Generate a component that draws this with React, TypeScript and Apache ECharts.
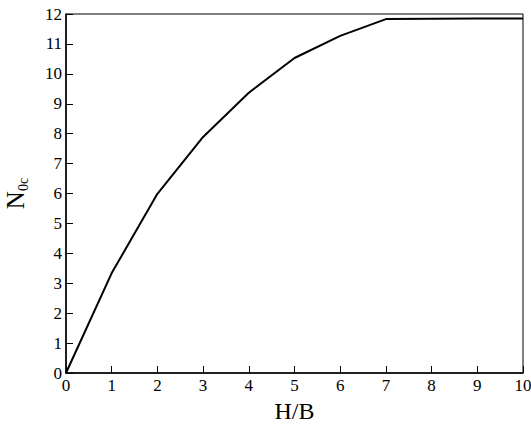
import React, { useEffect, useRef } from "react";
import * as echarts from "echarts";

const xValues = [0, 1, 2, 3, 4, 5, 6, 7, 8, 9, 10];
const n0cValues = [0, 3.34, 5.99, 7.89, 9.37, 10.53, 11.27, 11.83, 11.84, 11.85, 11.85];

const FONT = "Liberation Serif";

const tickRich = { t: { fontFamily: FONT, fontSize: 17, color: "#000" } };

export default function App() {
  const ref = useRef<HTMLDivElement>(null);
  useEffect(() => {
    if (!ref.current) return;
    const chart = echarts.init(ref.current, null, { renderer: "svg" });
    chart.setOption({
      animation: false,
      backgroundColor: "#fff",
      textStyle: { fontFamily: FONT, color: "#000" },
      grid: {
        left: 66,
        right: 8,
        top: 14,
        bottom: 53,
        show: true,
        borderColor: "#000",
        borderWidth: 1,
        containLabel: false,
        outerBoundsMode: "none",
      },
      xAxis: {
        type: "value",
        min: 0,
        max: 10,
        interval: 1,
        name: "H/B",
        nameLocation: "middle",
        nameGap: 24,
        nameTextStyle: { fontFamily: FONT, fontSize: 24, color: "#000" },
        axisLine: { show: true, lineStyle: { color: "#000", width: 1.5 } },
        axisTick: { show: true, inside: true, length: 7, lineStyle: { color: "#000" } },
        axisLabel: {
          show: true,
          fontFamily: FONT,
          fontSize: 17,
          color: "#000",
          margin: 4,
          formatter: "{t|{value}}",
          rich: tickRich,
        },
        splitLine: { show: false },
      },
      yAxis: {
        type: "value",
        min: 0,
        max: 12,
        interval: 1,
        name: "{n|N}{s|0c}",
        nameLocation: "middle",
        nameGap: 38,
        nameRotate: 90,
        nameTextStyle: {
          fontFamily: FONT,
          color: "#000",
          rich: {
            n: { fontFamily: FONT, fontSize: 25, color: "#000", verticalAlign: "bottom" },
            s: { fontFamily: FONT, fontSize: 14, color: "#000", verticalAlign: "bottom", padding: [0, 0, -2, 0] },
          },
        },
        axisLine: { show: true, lineStyle: { color: "#000", width: 1.5 } },
        axisTick: { show: true, inside: true, length: 7, lineStyle: { color: "#000" } },
        axisLabel: {
          show: true,
          fontFamily: FONT,
          fontSize: 17,
          color: "#000",
          margin: 4,
          formatter: "{t|{value}}",
          rich: tickRich,
        },
        splitLine: { show: false },
      },
      series: [
        {
          type: "line",
          data: xValues.map((x, i) => [x, n0cValues[i]]),
          symbol: "none",
          lineStyle: { color: "#000", width: 2 },
        },
      ],
    });
    return () => chart.dispose();
  }, []);
  return <div ref={ref} style={{ width: 531, height: 426, position: "absolute", left: 0, top: 0 }} />;
}
